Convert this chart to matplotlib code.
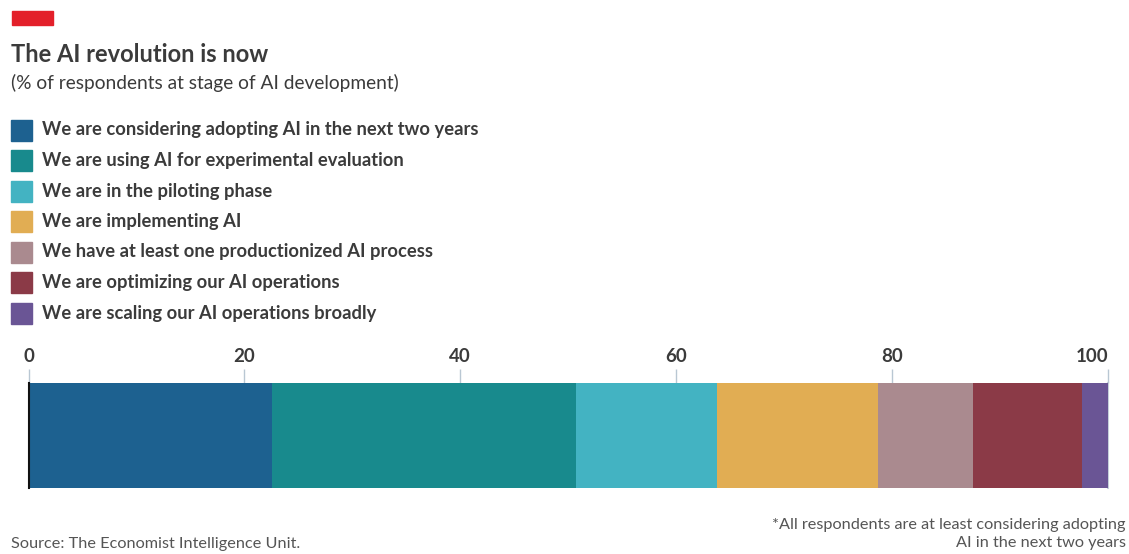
import matplotlib.pyplot as plt
from matplotlib.patches import Rectangle

# stages of AI development, % of respondents
stages = [
    "We are considering adopting AI in the next two years",
    "We are using AI for experimental evaluation",
    "We are in the piloting phase",
    "We are implementing AI",
    "We have at least one productionized AI process",
    "We are optimizing our AI operations",
    "We are scaling our AI operations broadly",
]
shares = [22.6, 28.1, 13.1, 14.9, 8.8, 10.1, 2.4]
colors = ["#1d6190", "#188a8d", "#43b3c2", "#e1ad53", "#aa8a8f", "#8b3a47", "#6a5595"]
ticks = [0, 20, 40, 60, 80, 100]

W, H = 1129, 554
fig = plt.figure(figsize=(W / 100, H / 100), dpi=100)
fig.patch.set_facecolor("white")

def fx(px):
    return px / W

def fy(py):
    return 1 - py / H

txt = "#3b3b3b"

# red tag + headings
fig.patches.append(Rectangle((fx(12), fy(25)), fx(41), 14 / H, color="#e3202a",
                             transform=fig.transFigure, figure=fig))
fig.text(fx(11), fy(54), "The AI revolution is now", fontsize=17, fontweight="bold",
         family="Lato", color=txt, va="center")
fig.text(fx(11), fy(83), "(% of respondents at stage of AI development)", fontsize=13.8,
         family="Lato", color=txt, va="center")

# legend
for i, (lab, c) in enumerate(zip(stages, colors)):
    yc = 130 + i * 30.5
    fig.patches.append(Rectangle((fx(11), fy(yc + 10.5)), fx(21), 21 / H, color=c,
                                 transform=fig.transFigure, figure=fig))
    fig.text(fx(42), fy(yc), lab, fontsize=13.2, fontweight="bold", family="Lato",
             color=txt, va="center")

# stacked bar
ax = fig.add_axes([fx(28.5), fy(488), fx(1108 - 28.5), 105 / H])
left = 0
for v, c in zip(shares, colors):
    ax.barh(0, v, left=left, height=1, color=c, zorder=2)
    left += v
ax.set_xlim(0, 100)
ax.set_ylim(-0.5, 0.5)
ax.axvline(0, color="#111111", lw=1.5, zorder=3, clip_on=False)
ax.axvline(100, color="#c5d0da", lw=1.5, zorder=1, clip_on=False)
for s in ax.spines.values():
    s.set_visible(False)
ax.set_yticks([])
ax.set_xticks(ticks)
ax.xaxis.tick_top()
ax.tick_params(axis="x", length=10, width=1, color="#b9c7d3", pad=3,
               labelsize=13.5, labelcolor=txt)
for lab in ax.get_xticklabels():
    lab.set_family("Lato")
    lab.set_fontweight("bold")
ax.get_xticklabels()[-1].set_horizontalalignment("right")
ax.get_xticklines()[0].set_color("#111111")
ax.get_xticklines()[1].set_color("#111111")

# footer
fig.text(fx(11), fy(544), "Source: The Economist Intelligence Unit.", fontsize=11.7,
         family="Lato", color="#555555", va="center")
fig.text(fx(1126), fy(534), "*All respondents are at least considering adopting\nAI in the next two years",
         fontsize=11.7, family="Lato", color="#555555", va="center",
         ha="right", multialignment="right", linespacing=1.35)

fig.savefig("out.png", dpi=100, facecolor="white")
